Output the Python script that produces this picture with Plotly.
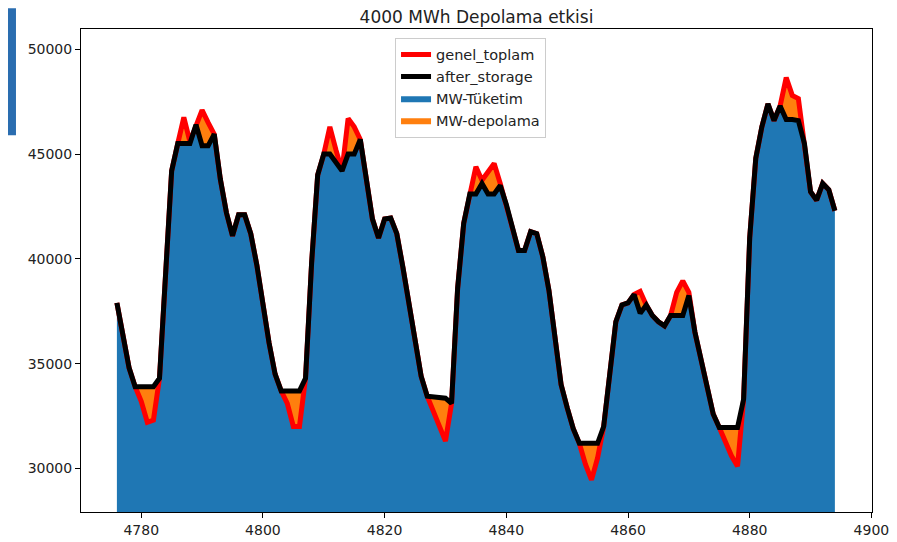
import plotly.graph_objects as go

hours = list(range(4776, 4895))

after_storage = [
    37900, 36200, 34800, 33900, 33900, 33900, 33900, 34300, 38800, 44200,   # 4776-4785
    45500, 45500, 45500, 46400, 45400, 45400, 45950, 43800, 42200, 41100,   # 4786-4795
    42100, 42100, 41200, 39700, 37700, 36000, 34500, 33700, 33700, 33700,   # 4796-4805
    33700, 34300, 39800, 44000, 45000, 45000, 44600, 44200, 45000, 45000,   # 4806-4815
    45700, 43700, 41900, 41000, 41900, 41950, 41200, 39600, 37800, 36200,   # 4816-4825
    34400, 33450, 33400, 33400, 33350, 33100, 38600, 41700, 43100, 43100,   # 4826-4835
    43600, 43100, 43100, 43500, 42600, 41500, 40400, 40400, 41300, 41200,   # 4836-4845
    40100, 38500, 36200, 34000, 32900, 31900, 31200, 31200, 31200, 31200,   # 4846-4855
    32000, 34700, 37000, 37800, 37900, 38300, 37400, 37800, 37300, 37000,   # 4856-4865
    36800, 37300, 37300, 37300, 38250, 36500, 35200, 33800, 32600, 31950,   # 4866-4875
    31950, 31950, 31950, 33300, 41000, 44800, 46300, 47400, 46600, 47300,   # 4876-4885
    46650, 46650, 46600, 45500, 43200, 42800, 43600, 43300, 42300,          # 4886-4894
]

genel_toplam = [
    37900, 36200, 34800, 33900, 33200, 32200, 32300, 34300, 38800, 44200,   # 4776-4785
    45500, 46750, 45600, 46400, 47100, 46500, 45950, 43800, 42200, 41100,   # 4786-4795
    42100, 42100, 41200, 39700, 37700, 36000, 34500, 33700, 33100, 32000,   # 4796-4805
    32000, 34300, 39800, 44000, 45000, 46300, 45200, 44200, 46700, 46300,   # 4806-4815
    45700, 43700, 41900, 41000, 41900, 41950, 41200, 39600, 37800, 36200,   # 4816-4825
    34400, 33450, 32700, 31900, 31300, 33100, 38600, 41700, 43100, 44400,   # 4826-4835
    43750, 44200, 44550, 43600, 42600, 41500, 40400, 40400, 41300, 41200,   # 4836-4845
    40100, 38500, 36200, 34000, 32900, 31900, 31200, 30200, 29450, 30500,   # 4846-4855
    32000, 34700, 37000, 37800, 37900, 38300, 38450, 37800, 37300, 37000,   # 4856-4865
    36800, 37300, 38400, 38950, 38400, 36500, 35200, 33800, 32600, 31950,   # 4866-4875
    31300, 30600, 30100, 33300, 41000, 44800, 46300, 47400, 46600, 47300,   # 4876-4885
    48650, 47800, 47650, 45500, 43200, 42800, 43600, 43300, 42300,          # 4886-4894
]

title_text = "4000 MWh Depolama etkisi"
x_ticks = [4780, 4800, 4820, 4840, 4860, 4880, 4900]
y_ticks = [30000, 35000, 40000, 45000, 50000]

fig = go.Figure()

# stacked areas: MW-Tüketim (blue) and MW-depolama (orange, between consumption and after-storage)
fig.add_trace(go.Scatter(
    x=hours, y=genel_toplam, name="MW-Tüketim", mode="lines",
    line=dict(width=0, color="#1f77b4"), fill="tozeroy", fillcolor="#1f77b4",
    legendrank=3, hoverinfo="skip"))
fig.add_trace(go.Scatter(
    x=hours, y=after_storage, name="MW-depolama", mode="lines",
    line=dict(width=0, color="#ff7f0e"), fill="tonexty", fillcolor="#ff7f0e",
    legendrank=4, hoverinfo="skip"))
fig.add_trace(go.Scatter(
    x=hours, y=genel_toplam, name="genel_toplam", mode="lines",
    line=dict(width=5, color="#ff0000"), legendrank=1))
fig.add_trace(go.Scatter(
    x=hours, y=after_storage, name="after_storage", mode="lines",
    line=dict(width=5, color="#000000"), legendrank=2))

axis_common = dict(
    showline=True, linecolor="#000000", linewidth=1, mirror=True,
    ticks="outside", ticklen=5, tickcolor="#000000", showgrid=False, zeroline=False,
    tickfont=dict(family="DejaVu Sans", size=14, color="#222222"),
)

# page body has an 8px margin, so the figure margins are offset to keep the plot area in place
fig.update_layout(
    width=897, height=542,
    margin=dict(l=73, r=33, t=21, b=33),
    paper_bgcolor="white", plot_bgcolor="white",
    title=dict(text=title_text, x=0.5, xref="paper", y=1.0, yref="container",
               yanchor="top", pad=dict(t=3, b=0),
               font=dict(family="DejaVu Sans", size=17, color="#222222")),
    xaxis=dict(range=[4770.1, 4900.1], tickvals=x_ticks, **axis_common),
    yaxis=dict(range=[27920, 50970], tickvals=y_ticks, tickformat="d", **axis_common),
    legend=dict(x=0.397, y=0.982, xanchor="left", yanchor="top",
                bgcolor="rgba(255,255,255,0.9)", bordercolor="#cccccc", borderwidth=1,
                font=dict(family="DejaVu Sans", size=14.5, color="#222222"),
                traceorder="normal"),
    showlegend=True,
    shapes=[dict(type="rect", xref="paper", yref="paper",
                 x0=-0.0923, x1=-0.0822, y0=0.78, y1=1.043,
                 fillcolor="#2a6db0", line=dict(width=0), layer="above")],
)

fig.write_html("out.html")
